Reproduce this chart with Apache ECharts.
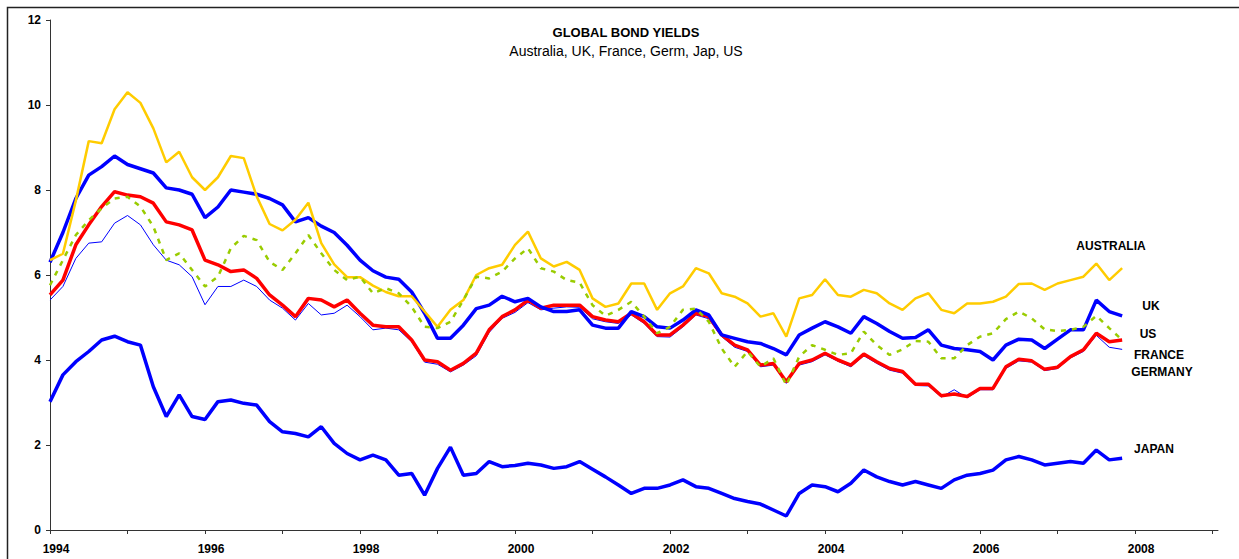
<!DOCTYPE html>
<html>
<head>
<meta charset="utf-8">
<title>Global Bond Yields</title>
<script src="https://cdn.jsdelivr.net/npm/echarts@6/dist/echarts.min.js"></script>
<style>
  html, body { margin: 0; padding: 0; background: #fff; }
  #chart { width: 1239px; height: 559px; }
</style>
</head>
<body>
<div id="chart"></div>
<script>
// sampling grid: every two months from Jan 1994 to Nov 2007 (decimal years)
const dates = Array.from({ length: 84 }, (_, k) => 1994 + k / 6)

const tickYears = [1994, 1995, 1996, 1997, 1998, 1999, 2000, 2001, 2002, 2003, 2004, 2005, 2006, 2007, 2008, 2009]
const labelYears = [1994, 1996, 1998, 2000, 2002, 2004, 2006, 2008]

// 10y government bond yields, %
const australia = [
  6.35, 6.5, 7.75, 9.15, 9.1, 9.9, 10.3, 10.05, 9.45, 8.65, 8.9, 8.3, 8.0, 8.3, 8.8, 8.75, 7.85, 7.2, 7.05, 7.3, 7.7, 6.75, 6.25, 5.95, 5.95, 5.75, 5.6, 5.5, 5.5,
  5.14, 4.78, 5.18, 5.41, 6.0, 6.16, 6.24, 6.71, 7.02, 6.39, 6.2, 6.31, 6.12, 5.45, 5.25, 5.33, 5.8, 5.8, 5.18, 5.57, 5.73, 6.16, 6.04, 5.57, 5.49, 5.33, 5.02, 5.1, 4.55,
  5.45, 5.53, 5.9, 5.53, 5.49, 5.65, 5.57, 5.33, 5.18, 5.45, 5.57, 5.18, 5.1, 5.33, 5.33, 5.37, 5.49, 5.79, 5.8, 5.65, 5.8, 5.88, 5.96, 6.27, 5.88, 6.16
]
const uk = [
  6.3, 7.0, 7.8, 8.35, 8.55, 8.8, 8.6, 8.5, 8.4, 8.05, 8.0, 7.9, 7.35, 7.6, 8.0, 7.95, 7.9, 7.8, 7.65, 7.25, 7.35, 7.15, 7.0, 6.7, 6.35, 6.1, 5.95, 5.9, 5.6,
  5.1, 4.51, 4.51, 4.82, 5.21, 5.29, 5.5, 5.37, 5.45, 5.25, 5.14, 5.14, 5.18, 4.82, 4.75, 4.75, 5.14, 5.02, 4.78, 4.75, 4.94, 5.18, 5.06, 4.59, 4.51, 4.43, 4.39, 4.27, 4.12,
  4.59, 4.75, 4.9, 4.78, 4.63, 5.02, 4.86, 4.67, 4.51, 4.53, 4.71, 4.35, 4.27, 4.24, 4.2, 4.0, 4.35, 4.49, 4.47, 4.27, 4.49, 4.71, 4.71, 5.41, 5.14, 5.04
]
const us = [
  5.76, 6.35, 6.94, 7.29, 7.57, 7.8, 7.84, 7.61, 7.14, 6.35, 6.51, 6.12, 5.73, 5.96, 6.63, 6.92, 6.82, 6.31, 6.12, 6.51, 6.94, 6.51, 6.12, 5.88, 5.96, 5.57, 5.69, 5.57, 5.25,
  4.78, 4.75, 4.9, 5.41, 5.96, 5.92, 6.08, 6.39, 6.63, 6.16, 6.08, 5.88, 5.82, 5.29, 5.04, 5.18, 5.37, 5.02, 4.63, 4.78, 5.18, 5.21, 4.9, 4.27, 3.84, 4.2, 3.84, 4.04, 3.41,
  4.08, 4.35, 4.24, 4.12, 4.16, 4.67, 4.35, 4.12, 4.25, 4.45, 4.43, 4.04, 4.04, 4.35, 4.55, 4.63, 4.96, 5.14, 4.98, 4.72, 4.68, 4.71, 4.78, 5.04, 4.75, 4.47
]
const france = [
  5.53, 5.88, 6.71, 7.18, 7.61, 7.96, 7.88, 7.84, 7.69, 7.25, 7.18, 7.06, 6.35, 6.24, 6.08, 6.12, 5.92, 5.53, 5.29, 5.02, 5.45, 5.41, 5.25, 5.41, 5.1, 4.82, 4.78, 4.78, 4.47,
  4.0, 3.96, 3.76, 3.92, 4.16, 4.71, 5.02, 5.18, 5.41, 5.22, 5.29, 5.29, 5.29, 5.02, 4.94, 4.9, 5.1, 4.9, 4.59, 4.59, 4.82, 5.1, 5.02, 4.59, 4.35, 4.24, 3.88, 3.92, 3.49,
  3.92, 4.0, 4.16, 4.0, 3.88, 4.14, 3.96, 3.8, 3.73, 3.43, 3.43, 3.16, 3.2, 3.14, 3.33, 3.33, 3.84, 4.02, 3.98, 3.78, 3.83, 4.08, 4.24, 4.63, 4.43, 4.47
]
const germany = [
  5.41, 5.73, 6.39, 6.75, 6.78, 7.22, 7.4, 7.18, 6.71, 6.35, 6.24, 5.96, 5.3, 5.73, 5.73, 5.88, 5.73, 5.41, 5.22, 4.94, 5.33, 5.06, 5.1, 5.29, 5.02, 4.71, 4.75, 4.71, 4.43,
  3.95, 3.9, 3.72, 3.88, 4.1, 4.65, 4.98, 5.12, 5.35, 5.18, 5.22, 5.25, 5.24, 4.97, 4.9, 4.86, 5.06, 4.86, 4.55, 4.54, 4.78, 5.06, 4.97, 4.55, 4.3, 4.2, 3.84, 3.88, 3.45,
  3.88, 3.96, 4.12, 3.97, 3.84, 4.1, 3.92, 3.76, 3.69, 3.4, 3.39, 3.13, 3.3, 3.11, 3.3, 3.3, 3.8, 3.98, 3.95, 3.75, 3.8, 4.05, 4.2, 4.58, 4.3, 4.25
]
const japan = [
  3.02, 3.65, 3.96, 4.2, 4.47, 4.56, 4.43, 4.35, 3.37, 2.67, 3.18, 2.67, 2.6, 3.02, 3.06, 2.98, 2.94, 2.55, 2.31, 2.27, 2.19, 2.43, 2.04, 1.8, 1.65, 1.76, 1.65, 1.29, 1.33,
  0.82, 1.45, 1.95, 1.29, 1.33, 1.61, 1.49, 1.52, 1.57, 1.53, 1.45, 1.49, 1.61, 1.43, 1.25, 1.06, 0.86, 0.98, 0.98, 1.06, 1.18, 1.02, 0.98, 0.86, 0.74, 0.67, 0.61, 0.47, 0.33,
  0.86, 1.06, 1.02, 0.9, 1.1, 1.41, 1.25, 1.14, 1.06, 1.14, 1.06, 0.98, 1.18, 1.29, 1.33, 1.41, 1.65, 1.73, 1.65, 1.53, 1.57, 1.61, 1.57, 1.88, 1.65, 1.69
]

const FONT = '"Liberation Sans", Arial, sans-serif'

function pairs(values) {
  return dates.map((t, i) => [t, values[i]])
}

function line(name, values, color, width, type) {
  return {
    name: name,
    type: 'line',
    data: pairs(values),
    showSymbol: false,
    symbol: 'none',
    animation: false,
    lineStyle: { color: color, width: width, type: type || 'solid' },
  }
}

function label(text, x, y, font) {
  return {
    type: 'text',
    x: x,
    y: y,
    silent: true,
    style: {
      text: text,
      font: font || 'bold 12px ' + FONT,
      fill: '#000',
      align: 'center',
      verticalAlign: 'middle',
      textAlign: 'center',
      textVerticalAlign: 'middle',
    },
  }
}

const chart = echarts.init(document.getElementById('chart'), null, { renderer: 'svg' })

chart.setOption({
  backgroundColor: '#fff',
  animation: false,
  grid: { left: 50, right: 21, top: 20, bottom: 29, containLabel: false },
  xAxis: {
    type: 'value',
    min: 1994,
    max: 2009.07,
    interval: 1,
    splitLine: { show: false },
    axisLine: { show: true, onZero: false, lineStyle: { color: '#333', width: 1 } },
    axisTick: { show: true, length: 4, customValues: tickYears, lineStyle: { color: '#333' } },
    axisLabel: {
      customValues: labelYears,
      formatter: v => (v % 2 === 0 && Math.round(v) === v) ? String(v) : '',
      color: '#000',
      fontFamily: FONT,
      fontWeight: 'bold',
      fontSize: 12,
      margin: 13,
      padding: [0, 0, 0, 12],
    },
  },
  yAxis: {
    type: 'value',
    min: 0,
    max: 12,
    interval: 2,
    splitLine: { show: false },
    axisLine: { show: true, lineStyle: { color: '#333', width: 1 } },
    axisTick: { show: true, length: 4, lineStyle: { color: '#333' } },
    axisLabel: {
      color: '#000',
      fontFamily: FONT,
      fontWeight: 'bold',
      fontSize: 12,
      margin: 9,
    },
  },
  series: [
    line('Germany', germany, '#0000FF', 1),
    line('France', france, '#FF0000', 3.5),
    line('UK', uk, '#0000FF', 3.5),
    line('Japan', japan, '#0000FF', 3.5),
    line('Australia', australia, '#FFCC00', 2.5),
    line('US', us, '#99CC00', 2.5, [5, 6]),
  ],
  graphic: [
    {
      type: 'rect',
      silent: true,
      shape: { x: 7.5, y: 7.5, width: 1260, height: 580 },
      style: { fill: 'none', stroke: '#222', lineWidth: 1.5 },
    },
    label('GLOBAL BOND YIELDS', 626, 32, 'bold 13px ' + FONT),
    label('Australia, UK, France, Germ, Jap, US', 626, 51, '14px ' + FONT),
    label('AUSTRALIA', 1111, 246),
    label('UK', 1151, 306),
    label('US', 1148, 334),
    label('FRANCE', 1159, 355),
    label('GERMANY', 1162, 372),
    label('JAPAN', 1154, 449),
  ],
})
</script>
</body>
</html>
